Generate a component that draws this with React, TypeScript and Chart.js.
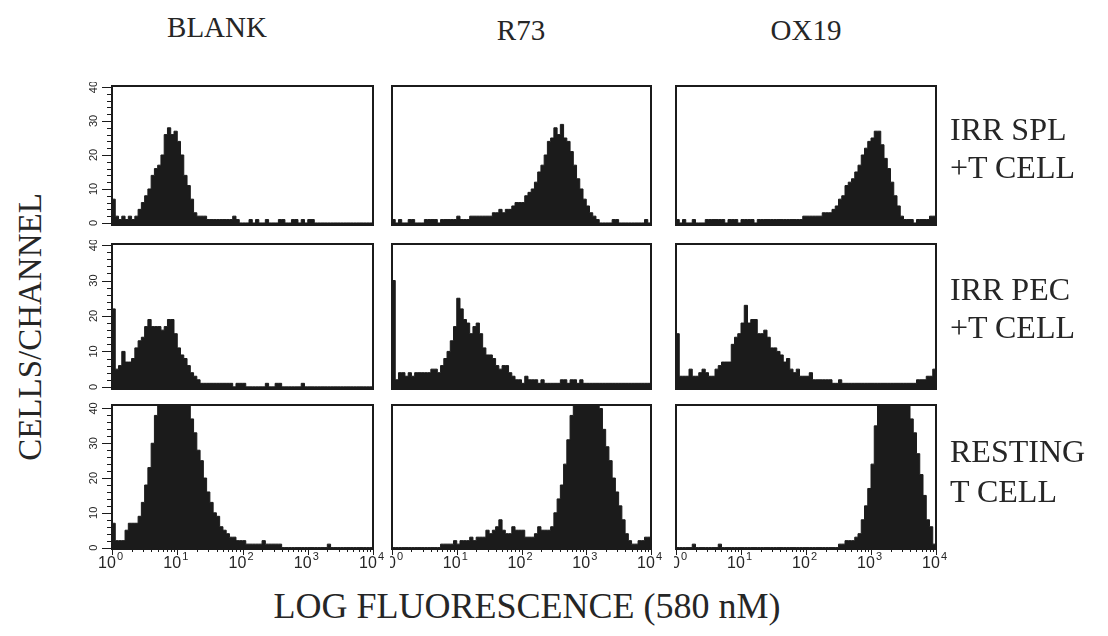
import React, { useEffect, useRef } from 'react';
import { Chart, registerables } from 'chart.js';

Chart.register(...registerables);

// ---------- data ----------
const BINS_PER_DECADE = 20;
const X_DECADES = [0, 1, 2, 3, 4];
const X_MINOR = [2, 3, 4, 5, 6, 7, 8, 9];
const Y_MAJOR = [0, 10, 20, 30, 40];
const Y_MINOR_STEP = 2;

const COLUMN_TITLES = ['BLANK', 'R73', 'OX19'];
const ROW_LABELS = [
  ['IRR SPL', '+T CELL'],
  ['IRR PEC', '+T CELL'],
  ['RESTING', 'T CELL'],
];
const Y_TITLE = 'CELLS/CHANNEL';
const X_TITLE = 'LOG FLUORESCENCE (580 nM)';

// counts per channel, 20 channels per decade, 10^0 .. 10^4
const BLANK_SPL = [
  7, 2, 1, 2, 1, 2, 1, 2, 4, 6,
  8, 10, 14, 16, 17, 20, 26, 28, 26, 27,
  24, 20, 14, 11, 7, 3, 2, 2, 2, 1,
  1, 1, 1, 1, 1, 1, 1, 2, 1, 0,
  0, 0, 1, 0, 1, 0, 0, 1, 0, 0,
  0, 1, 1, 0, 0, 1, 1, 0, 1, 0,
  1, 1, 0, 0, 0, 0, 0, 0, 0, 0,
  0, 0, 0, 0, 0, 0, 0, 0, 0, 0,
];
const R73_SPL = [
  1, 0, 1, 0, 0, 1, 1, 0, 0, 0,
  1, 1, 1, 1, 0, 1, 1, 1, 1, 1,
  2, 1, 1, 1, 2, 2, 2, 2, 2, 2,
  2, 3, 3, 4, 3, 4, 4, 5, 6, 6,
  6, 8, 9, 10, 12, 15, 17, 20, 24, 25,
  28, 26, 29, 25, 24, 21, 17, 13, 10, 7,
  5, 3, 2, 1, 0, 0, 0, 0, 1, 1,
  0, 0, 0, 0, 0, 0, 0, 0, 1, 0,
];
const OX19_SPL = [
  1, 0, 1, 0, 0, 1, 0, 0, 0, 1,
  1, 1, 1, 1, 1, 0, 1, 1, 1, 0,
  1, 1, 1, 1, 0, 1, 1, 1, 1, 1,
  1, 1, 1, 1, 1, 1, 1, 1, 1, 2,
  2, 2, 2, 2, 2, 3, 3, 3, 4, 5,
  7, 8, 11, 12, 13, 15, 17, 20, 22, 24,
  25, 27, 27, 23, 19, 16, 12, 8, 5, 2,
  1, 1, 1, 0, 1, 1, 1, 1, 2, 2,
];
const BLANK_PEC = [
  22, 5, 6, 10, 7, 7, 8, 11, 13, 14,
  17, 19, 17, 17, 17, 16, 17, 19, 19, 15,
  11, 9, 8, 6, 4, 3, 2, 1, 1, 1,
  1, 1, 1, 1, 1, 1, 1, 0, 1, 1,
  1, 0, 0, 0, 0, 0, 0, 1, 0, 0,
  1, 1, 0, 0, 0, 0, 0, 0, 1, 0,
  0, 0, 0, 0, 0, 0, 0, 0, 0, 0,
  0, 0, 0, 0, 0, 0, 0, 0, 0, 0,
];
const R73_PEC = [
  30, 2, 4, 4, 3, 4, 3, 4, 4, 4,
  4, 4, 5, 5, 4, 6, 8, 10, 13, 17,
  25, 22, 19, 18, 15, 17, 18, 15, 11, 9,
  9, 8, 6, 5, 6, 6, 4, 3, 2, 2,
  1, 3, 2, 2, 2, 1, 2, 1, 1, 1,
  1, 1, 2, 2, 1, 2, 2, 1, 2, 1,
  1, 1, 1, 1, 1, 1, 1, 1, 1, 1,
  1, 1, 1, 1, 1, 1, 1, 1, 1, 1,
];
const OX19_PEC = [
  15, 3, 3, 3, 5, 3, 3, 4, 5, 4,
  3, 3, 5, 6, 7, 7, 7, 12, 14, 15,
  18, 23, 18, 19, 19, 15, 15, 16, 14, 11,
  11, 10, 9, 7, 8, 5, 4, 5, 3, 3,
  3, 4, 2, 2, 2, 2, 2, 2, 1, 1,
  2, 1, 1, 1, 1, 1, 1, 1, 1, 1,
  1, 1, 1, 1, 1, 1, 1, 1, 1, 1,
  1, 1, 1, 1, 2, 2, 2, 3, 3, 5,
];
const BLANK_REST = [
  7, 2, 2, 2, 5, 7, 7, 7, 9, 13,
  18, 23, 30, 38, 44, 50, 54, 56, 57, 56,
  54, 50, 46, 42, 37, 33, 28, 25, 20, 16,
  13, 10, 9, 6, 5, 4, 3, 3, 2, 2,
  2, 1, 1, 1, 1, 1, 2, 1, 1, 1,
  1, 1, 0, 0, 0, 0, 0, 0, 0, 0,
  0, 0, 0, 0, 0, 0, 1, 0, 0, 0,
  0, 0, 0, 0, 0, 0, 0, 0, 0, 0,
];
const R73_REST = [
  0, 0, 0, 0, 0, 0, 0, 0, 0, 0,
  0, 0, 0, 0, 0, 1, 1, 1, 1, 2,
  1, 2, 2, 2, 3, 2, 3, 3, 3, 5,
  4, 5, 6, 8, 5, 4, 4, 6, 5, 5,
  5, 3, 3, 3, 4, 6, 5, 5, 5, 6,
  10, 14, 18, 24, 31, 38, 44, 50, 55, 58,
  58, 55, 50, 45, 40, 34, 29, 25, 20, 16,
  12, 8, 4, 2, 1, 1, 2, 2, 3, 3,
];
const OX19_REST = [
  0, 0, 0, 0, 0, 1, 0, 0, 0, 0,
  0, 0, 0, 1, 0, 0, 0, 0, 0, 0,
  0, 0, 0, 0, 0, 0, 0, 0, 0, 0,
  0, 0, 0, 0, 0, 0, 0, 0, 0, 0,
  0, 0, 0, 0, 0, 0, 0, 0, 0, 0,
  1, 1, 2, 2, 2, 3, 4, 8, 12, 17,
  24, 35, 44, 50, 55, 58, 60, 60, 58, 54,
  48, 43, 37, 33, 27, 21, 15, 8, 6, 1,
];

const PANELS = [
  [BLANK_SPL, R73_SPL, OX19_SPL],
  [BLANK_PEC, R73_PEC, OX19_PEC],
  [BLANK_REST, R73_REST, OX19_REST],
];

// ---------- layout / style ----------
const INK = '#1b1b1b';
const TEXT = '#262626';
const SERIF = '"Liberation Serif", "DejaVu Serif", serif';
const SANS = '"Liberation Sans", Arial, sans-serif';
const COL_LEFT = [112, 392, 676];
const COL_WIDTH = [261, 259, 260];
const ROW_TOP = [86, 244, 405];
const ROW_HEIGHT = [139, 145, 144];
const ROW_YMIN = [-0.6, -0.6, -0.4];
const ROW_YMAX = [40.3, 40.3, 41];

const framePlugin = {
  id: 'frame',
  afterDraw(chart: any, _args: any, opts: any) {
    const { ctx, chartArea: a, scales } = chart;
    const xs = scales.x;
    const ys = scales.y;
    ctx.save();
    ctx.strokeStyle = INK;
    ctx.fillStyle = INK;
    ctx.lineWidth = 2;
    ctx.strokeRect(a.left, a.top, a.right - a.left, a.bottom - a.top);

    const seg = (x1: number, y1: number, x2: number, y2: number) => {
      ctx.beginPath();
      ctx.moveTo(x1, y1);
      ctx.lineTo(x2, y2);
      ctx.stroke();
    };

    if (opts.xTicks) {
      ctx.lineWidth = 1;
      X_DECADES.forEach((d, i) => {
        const px = Math.round(xs.getPixelForValue(Math.pow(10, d))) + 0.5;
        seg(px, a.bottom, px, a.bottom + 6);
        if (i < X_DECADES.length - 1) {
          X_MINOR.forEach((m) => {
            const mx = Math.round(xs.getPixelForValue(m * Math.pow(10, d))) + 0.5;
            seg(mx, a.bottom, mx, a.bottom + 3);
          });
        }
      });
      ctx.fillStyle = TEXT;
      X_DECADES.forEach((d) => {
        const px = xs.getPixelForValue(Math.pow(10, d));
        ctx.font = `16px ${SANS}`;
        ctx.textAlign = 'center';
        ctx.textBaseline = 'alphabetic';
        const w = ctx.measureText('10').width;
        ctx.fillText('10', px - 5, a.bottom + 19);
        ctx.font = `11px ${SANS}`;
        ctx.textAlign = 'left';
        ctx.fillText(String(d), px - 5 + w / 2 + 1, a.bottom + 11);
      });
    }

    if (opts.yLabels) {
      ctx.lineWidth = 1;
      ctx.strokeStyle = INK;
      for (let v = Y_MAJOR[0]; v <= Y_MAJOR[Y_MAJOR.length - 1]; v += Y_MINOR_STEP) {
        const py = Math.round(ys.getPixelForValue(v)) + 0.5;
        const len = Y_MAJOR.includes(v) ? 10 : 5;
        seg(a.left - len, py, a.left, py);
      }
      ctx.fillStyle = TEXT;
      ctx.font = `11px ${SANS}`;
      ctx.textAlign = 'center';
      ctx.textBaseline = 'middle';
      Y_MAJOR.forEach((v) => {
        const py = ys.getPixelForValue(v);
        ctx.save();
        ctx.translate(a.left - 18, py);
        ctx.rotate(-Math.PI / 2);
        ctx.fillText(String(v), 0, 0);
        ctx.restore();
      });
    }
    ctx.restore();
  },
};

function Panel({ values, row, col }: { values: number[]; row: number; col: number }) {
  const ref = useRef<HTMLCanvasElement>(null);
  const padL = col === 0 ? 34 : 2;
  const padR = 16;
  const padT = 4;
  const padB = row === 2 ? 30 : 4;
  const w = COL_WIDTH[col] + padL + padR;
  const h = ROW_HEIGHT[row] + padT + padB;
  const left = COL_LEFT[col] - padL;
  const top = ROW_TOP[row] - padT;

  useEffect(() => {
    if (!ref.current) return;
    const pts = values.map((v, i) => ({ x: Math.pow(10, i / BINS_PER_DECADE), y: v }));
    pts.push({ x: Math.pow(10, values.length / BINS_PER_DECADE), y: values[values.length - 1] });
    const chart = new Chart(ref.current, {
      type: 'line',
      data: {
        datasets: [
          {
            data: pts,
            stepped: 'before',
            fill: 'start',
            backgroundColor: INK,
            borderColor: INK,
            borderWidth: 1,
            pointRadius: 0,
          } as any,
        ],
      },
      options: {
        animation: false,
        responsive: false,
        events: [],
        layout: { padding: { left: padL, right: padR, top: padT, bottom: padB } },
        plugins: {
          legend: { display: false },
          tooltip: { enabled: false },
          frame: { yLabels: col === 0, xTicks: row === 2 },
        } as any,
        scales: {
          x: { type: 'logarithmic', min: 1, max: 10000, display: false },
          y: { type: 'linear', min: ROW_YMIN[row], max: ROW_YMAX[row], display: false },
        },
      },
      plugins: [framePlugin],
    });
    return () => chart.destroy();
  }, [values, row, col]);

  return (
    <canvas
      ref={ref}
      width={w}
      height={h}
      style={{ position: 'absolute', left, top, width: w, height: h, display: 'block' }}
    />
  );
}

function Text({
  text, x, baseline, size, align = 'left',
}: { text: string; x: number; baseline: number; size: number; align?: 'left' | 'center' }) {
  return (
    <div
      style={{
        position: 'absolute',
        left: x,
        top: baseline - 0.8375 * size,
        fontFamily: SERIF,
        fontSize: size,
        lineHeight: 1,
        color: TEXT,
        whiteSpace: 'nowrap',
        transform: align === 'center' ? 'translateX(-50%)' : undefined,
      }}
    >
      {text}
    </div>
  );
}

const TITLE_X = [217, 521, 806];
const TITLE_BASE = [37, 40, 40];
const ROW_LABEL_BASE = [[140, 178], [300, 338], [462, 502]];

export default function App() {
  return (
    <div
      style={{
        position: 'absolute', left: 0, top: 0, width: 1108, height: 636,
        background: '#ffffff', overflow: 'hidden',
      }}
    >
      {PANELS.map((rowVals, r) =>
        rowVals.map((vals, c) => <Panel key={`${r}-${c}`} values={vals} row={r} col={c} />)
      )}
      {COLUMN_TITLES.map((t, i) => (
        <Text key={t} text={t} x={TITLE_X[i]} baseline={TITLE_BASE[i]} size={29} align="center" />
      ))}
      {ROW_LABELS.map((lines, r) =>
        lines.map((t, k) => (
          <Text key={`${r}-${k}`} text={t} x={950} baseline={ROW_LABEL_BASE[r][k]} size={32} />
        ))
      )}
      <Text text={X_TITLE} x={527} baseline={618} size={36} align="center" />
      <div
        style={{
          position: 'absolute', left: 30, top: 327,
          transform: 'translate(-50%, -50%) rotate(-90deg)',
          fontFamily: SERIF, fontSize: 33, lineHeight: 1, color: TEXT, whiteSpace: 'nowrap',
        }}
      >
        {Y_TITLE}
      </div>
    </div>
  );
}
